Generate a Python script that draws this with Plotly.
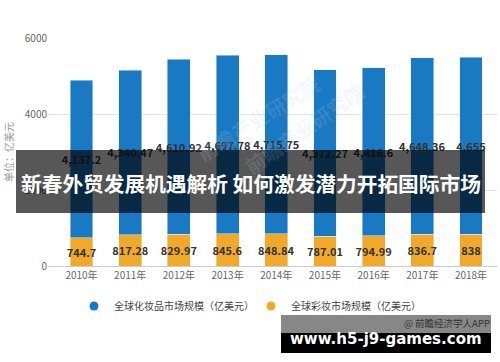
import plotly.graph_objects as go

# ---- data ----
years = ["2010年", "2011年", "2012年", "2013年", "2014年", "2015年", "2016年", "2017年", "2018年"]
cosmetics = [4137.2, 4340.47, 4610.92, 4697.78, 4715.75, 4372.27, 4416.6, 4648.36, 4655]
makeup = [744.7, 817.28, 829.97, 845.6, 848.84, 787.01, 794.99, 836.7, 838]
name_cos = "全球化妆品市场规模（亿美元）"
name_mk = "全球彩妆市场规模（亿美元）"
y_title = "单位：亿美元"
y_ticks = [0, 2000, 4000, 6000]
banner_text = "新春外贸发展机遇解析 如何激发潜力开拓国际市场"
site_text = "www.h5-j9-games.com"
source_text = "@ 前瞻经济学人APP"
watermark_text = "前瞻产业研究院"

BLUE = "#1a79c3"
YELLOW = "#f1a92b"
CJK = "Noto Sans CJK SC"

# ---- geometry (pixels) ----
W, Hh = 500, 362
L, R, T, B = 48, 497, 38, 266
PW, PH = R - L, B - T


def px(x):
    return (x - L) / PW


def py(y):
    return (B - y) / PH


fig = go.Figure()

label_font = dict(color="#333333", size=11, family=CJK, weight="bold")
fig.add_trace(go.Bar(
    x=years, y=makeup, name=name_mk, marker_color=YELLOW, width=0.47,
    text=[f"{v:,}" for v in makeup], textposition="inside", textangle=0,
    insidetextanchor="middle", constraintext="none",
    insidetextfont=label_font,
    showlegend=False, hoverinfo="skip",
))
fig.add_trace(go.Bar(
    x=years, y=cosmetics, name=name_cos, marker_color=BLUE, width=0.47,
    text=[f"{v:,}" for v in cosmetics], textposition="inside", textangle=0,
    insidetextanchor="middle", constraintext="none",
    insidetextfont=label_font,
    showlegend=False, hoverinfo="skip",
))
# legend entries (circle markers)
fig.add_trace(go.Scatter(x=[None], y=[None], mode="markers", name=name_cos,
                         marker=dict(symbol="circle", size=9, color=BLUE)))
fig.add_trace(go.Scatter(x=[None], y=[None], mode="markers", name=name_mk,
                         marker=dict(symbol="circle", size=9, color=YELLOW)))

shapes = [
    dict(type="rect", xref="paper", yref="paper", x0=px(16), x1=px(485), y0=py(150), y1=py(213),
         fillcolor="rgba(0,0,0,0.66)", line=dict(width=0), layer="above"),
    dict(type="rect", xref="paper", yref="paper", x0=px(281), x1=px(491), y0=py(315), y1=py(333),
         fillcolor="rgba(0,0,0,0.47)", line=dict(width=0), layer="above"),
    dict(type="rect", xref="paper", yref="paper", x0=px(281), x1=px(491), y0=py(333), y1=py(353),
         fillcolor="#000000", line=dict(width=0), layer="above"),
]

annotations = [
    dict(text=watermark_text, xref="paper", yref="paper", x=px(188), y=py(66), showarrow=False,
         textangle=-32, font=dict(family=CJK, size=20, color="rgba(190,205,222,0.17)", weight="bold")),
    dict(text=watermark_text, xref="paper", yref="paper", x=px(372), y=py(128), showarrow=False,
         textangle=-35, font=dict(family=CJK, size=20, color="rgba(190,205,222,0.17)", weight="bold")),
    dict(text=y_title, xref="paper", yref="paper", x=px(8), y=py(152), showarrow=False,
         textangle=-90, xanchor="center", yanchor="middle",
         font=dict(family=CJK, size=10, color="#999999")),
    dict(text=banner_text, xref="paper", yref="paper", x=px(250.5), y=py(183), showarrow=False,
         xanchor="center", yanchor="middle",
         font=dict(family=CJK, size=20.7, color="#ffffff", weight="bold")),
    dict(text=source_text, xref="paper", yref="paper", x=px(492), y=py(323), showarrow=False,
         xanchor="right", yanchor="middle",
         font=dict(family=CJK, size=9.5, color="#333333")),
    dict(text=site_text, xref="paper", yref="paper", x=px(386), y=py(339), showarrow=False,
         xanchor="center", yanchor="middle",
         font=dict(family="DejaVu Sans", size=15, color="#ffffff", weight="bold")),
]

fig.update_layout(
    width=W, height=Hh,
    margin=dict(l=L, r=W - R, t=T, b=Hh - B, pad=0, autoexpand=False),
    barmode="stack",
    plot_bgcolor="white", paper_bgcolor="white",
    font=dict(family=CJK, size=10, color="#666666"),
    xaxis=dict(
        type="category", range=[-0.688, 8.534], automargin=False,
        showgrid=False, showline=True, linecolor="#cccccc", linewidth=1,
        ticks="", tickfont=dict(size=10, color="#666666", family=CJK),
        fixedrange=True,
    ),
    yaxis=dict(
        range=[0, 6000], tickvals=y_ticks, ticktext=[str(v) for v in y_ticks], automargin=False,
        showgrid=True, gridcolor="#e3e3e3", gridwidth=1, zeroline=False,
        ticks="", tickfont=dict(size=10, color="#666666", family=CJK),
        fixedrange=True,
    ),
    legend=dict(
        orientation="h", x=px(251), xanchor="center", y=py(306), yanchor="middle",
        font=dict(family=CJK, size=10, color="#444444"), traceorder="normal",
        itemwidth=30, entrywidth=132, entrywidthmode="pixels", bgcolor="rgba(0,0,0,0)",
    ),
    shapes=shapes,
    annotations=annotations,
    showlegend=True,
)

fig.write_html("out.html", config={"displayModeBar": False},
               post_script="document.body.style.margin='0';document.body.style.padding='0';")
